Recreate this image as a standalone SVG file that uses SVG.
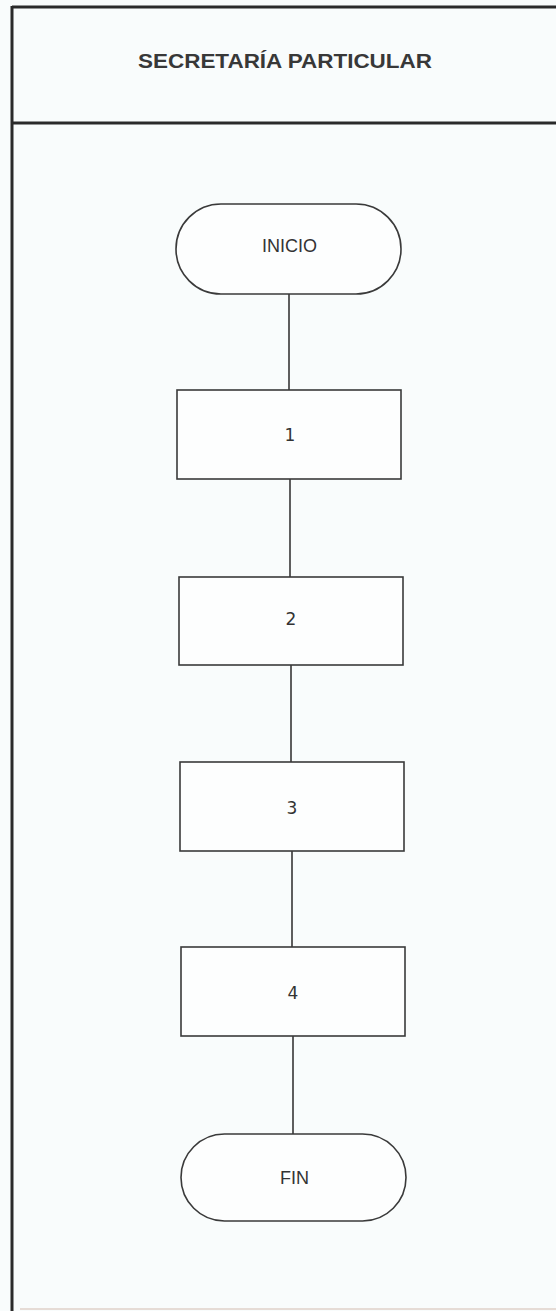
<svg xmlns="http://www.w3.org/2000/svg" width="556" height="1311" viewBox="0 0 556 1311">
<style>
.frame{fill:none;stroke:#2a2a2a;stroke-width:3}
.shape{fill:#fdfefe;stroke:#3a3a3a;stroke-width:1.6}
.conn{stroke:#2a2a2a;stroke-width:1.5;fill:none}
.lbl{font-family:"Liberation Sans",Arial,sans-serif;font-size:18px;fill:#333;text-anchor:middle;dominant-baseline:central}
.num{font-family:"DejaVu Sans",sans-serif;font-size:17px;fill:#333;text-anchor:middle;dominant-baseline:central}
.title{font-family:"Liberation Sans",Arial,sans-serif;font-size:21px;font-weight:bold;fill:#383838;text-anchor:middle;dominant-baseline:central}
</style>
<rect x="0" y="0" width="556" height="1311" fill="#f9fcfc"/>
<g id="frame">
<line class="frame" x1="12" y1="7" x2="556" y2="7"/>
<line class="frame" x1="12" y1="123" x2="556" y2="123"/>
<line class="frame" x1="12" y1="6" x2="12" y2="1311"/>
<line x1="20" y1="1309" x2="556" y2="1309" stroke="#e6dcd6" stroke-width="2"/>
<text class="title" x="285" y="60" textLength="294" lengthAdjust="spacingAndGlyphs">SECRETARÍA PARTICULAR</text>
</g>
<g id="connectors">
<line class="conn" x1="289" y1="294" x2="289" y2="390"/>
<line class="conn" x1="290" y1="479" x2="290" y2="577"/>
<line class="conn" x1="291" y1="665" x2="291" y2="762"/>
<line class="conn" x1="292" y1="851" x2="292" y2="947"/>
<line class="conn" x1="293" y1="1036" x2="293" y2="1134"/>
</g>
<g id="inicio">
<rect class="shape" x="176" y="204" width="225" height="90" rx="45" ry="45"/>
<text class="lbl" x="289.5" y="246">INICIO</text>
</g>
<g id="n1">
<rect class="shape" x="177" y="390" width="224" height="89"/>
<text class="num" x="290" y="435">1</text>
</g>
<g id="n2">
<rect class="shape" x="179" y="577" width="224" height="88"/>
<text class="num" x="291" y="619">2</text>
</g>
<g id="n3">
<rect class="shape" x="180" y="762" width="224" height="89"/>
<text class="num" x="292" y="808">3</text>
</g>
<g id="n4">
<rect class="shape" x="181" y="947" width="224" height="89"/>
<text class="num" x="293" y="993">4</text>
</g>
<g id="fin">
<rect class="shape" x="181" y="1134" width="225" height="87" rx="43.5" ry="43.5"/>
<text class="lbl" x="294.5" y="1178">FIN</text>
</g>
</svg>
